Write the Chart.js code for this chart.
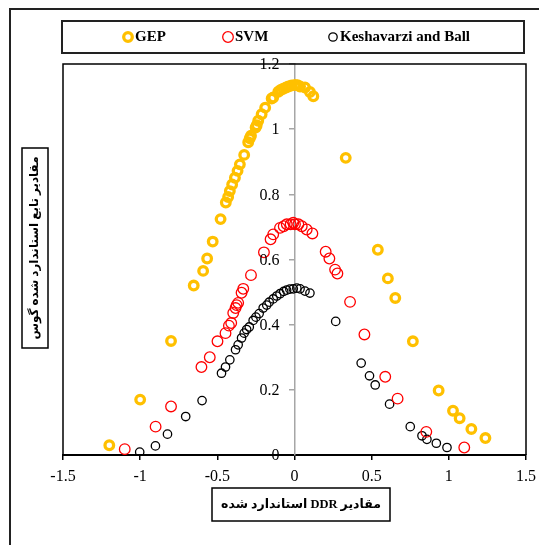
<!DOCTYPE html>
<html>
<head>
<meta charset="utf-8">
<script src="https://cdn.jsdelivr.net/npm/chart.js@4.4.1/dist/chart.umd.min.js"></script>
<style>
  html, body { margin: 0; padding: 0; background: #fff; }
  #wrap { width: 539px; height: 545px; }
</style>
</head>
<body>
<div id="wrap"><canvas id="chart" width="539" height="545"></canvas></div>
<script>
const seriesNames = ['GEP', 'SVM', 'Keshavarzi and Ball'];
const seriesColors = ['#ffc000', '#ff0000', '#000000'];

const gepX = [-1.2, -1.0, -0.8, -0.653, -0.592, -0.566, -0.53, -0.479, -0.445, -0.43, -0.419, -0.404, -0.386, -0.369, -0.354, -0.326, -0.3, -0.29, -0.282, -0.252, -0.245, -0.235, -0.213, -0.19, -0.148, -0.138, -0.105, -0.09, -0.073, -0.055, -0.04, -0.02, 0.003, 0.02, 0.036, 0.068, 0.1, 0.122, 0.332, 0.54, 0.605, 0.653, 0.767, 0.934, 1.027, 1.07, 1.146, 1.237];
const gepY = [0.03, 0.17, 0.35, 0.52, 0.565, 0.603, 0.655, 0.724, 0.775, 0.792, 0.81, 0.83, 0.851, 0.872, 0.892, 0.921, 0.96, 0.972, 0.98, 1.005, 1.012, 1.026, 1.046, 1.066, 1.094, 1.097, 1.115, 1.12, 1.124, 1.128, 1.131, 1.134, 1.136, 1.135, 1.131, 1.128, 1.114, 1.101, 0.912, 0.63, 0.542, 0.482, 0.349, 0.198, 0.136, 0.113, 0.08, 0.052];

const svmX = [-1.1, -0.9, -0.8, -0.603, -0.549, -0.499, -0.447, -0.425, -0.41, -0.397, -0.382, -0.375, -0.365, -0.343, -0.332, -0.282, -0.198, -0.155, -0.138, -0.094, -0.07, -0.05, -0.025, -0.008, 0.003, 0.025, 0.047, 0.079, 0.116, 0.202, 0.226, 0.263, 0.278, 0.36, 0.453, 0.588, 0.668, 0.854, 1.1];
const svmY = [0.018, 0.087, 0.149, 0.27, 0.3, 0.349, 0.374, 0.397, 0.405, 0.436, 0.451, 0.46, 0.467, 0.498, 0.51, 0.552, 0.622, 0.662, 0.677, 0.697, 0.702, 0.708, 0.708, 0.713, 0.708, 0.708, 0.702, 0.692, 0.68, 0.624, 0.603, 0.569, 0.557, 0.47, 0.37, 0.24, 0.173, 0.071, 0.023];

const kbX = [-1.003, -0.901, -0.823, -0.705, -0.599, -0.473, -0.447, -0.419, -0.382, -0.365, -0.343, -0.326, -0.31, -0.293, -0.268, -0.25, -0.229, -0.203, -0.18, -0.164, -0.138, -0.115, -0.094, -0.07, -0.051, -0.03, -0.008, 0.015, 0.036, 0.068, 0.1, 0.267, 0.432, 0.486, 0.523, 0.616, 0.75, 0.826, 0.858, 0.919, 0.988];
const kbY = [0.009, 0.028, 0.064, 0.118, 0.167, 0.251, 0.27, 0.292, 0.323, 0.338, 0.359, 0.374, 0.385, 0.393, 0.413, 0.423, 0.434, 0.451, 0.46, 0.469, 0.479, 0.488, 0.495, 0.502, 0.506, 0.509, 0.51, 0.512, 0.51, 0.503, 0.497, 0.41, 0.282, 0.243, 0.215, 0.156, 0.087, 0.059, 0.048, 0.036, 0.023];

const xTickLabels = ['-1.5', '-1', '-0.5', '0', '0.5', '1', '1.5'];
const yTickLabels = ['0', '0.2', '0.4', '0.6', '0.8', '1', '1.2'];
const xTitle = 'مقادیر DDR استاندارد شده';
const yTitle = 'مقادیر تابع استاندارد شده گوس';

const toPoints = (xs, ys) => xs.map((x, i) => ({ x, y: ys[i] }));

const markerStyles = [
  { radius: 4.3, border: 3.3 },
  { radius: 5.3, border: 1.3 },
  { radius: 4.2, border: 1.3 }
];

// shrink a font until the text fits the wanted width
function fitFont(ctx, text, weight, startSize, maxWidth) {
  let size = startSize;
  ctx.font = `${weight} ${size}px "Liberation Serif", "DejaVu Sans"`;
  while (ctx.measureText(text).width > maxWidth && size > 8) {
    size -= 0.5;
    ctx.font = `${weight} ${size}px "Liberation Serif", "DejaVu Sans"`;
  }
}

const framePlugin = {
  id: 'frame',
  afterDraw(chart) {
    const ctx = chart.ctx;
    const a = chart.chartArea;
    const xs = chart.scales.x;
    const ys = chart.scales.y;
    ctx.save();

    // outer frame (top + left only visible)
    ctx.strokeStyle = '#222';
    ctx.lineWidth = 2;
    ctx.beginPath();
    ctx.moveTo(10, 560);
    ctx.lineTo(10, 9);
    ctx.lineTo(560, 9);
    ctx.stroke();

    // plot border
    ctx.strokeStyle = '#000';
    ctx.lineWidth = 1.5;
    ctx.beginPath();
    ctx.moveTo(a.left, a.bottom);
    ctx.lineTo(a.left, a.top);
    ctx.lineTo(a.right, a.top);
    ctx.lineTo(a.right, a.bottom);
    ctx.stroke();

    // y tick labels, left of the axis that crosses at x = 0
    const axisX = xs.getPixelForValue(0);
    ctx.fillStyle = '#000';
    ctx.font = '16px "Liberation Serif"';
    ctx.textAlign = 'right';
    ctx.textBaseline = 'middle';
    ys.ticks.forEach((t) => {
      ctx.fillText(yTickLabels[Math.round(t.value / 0.2)], axisX - 15, ys.getPixelForValue(t.value) + 1);
    });

    // legend
    ctx.lineWidth = 2;
    ctx.strokeStyle = '#222';
    ctx.strokeRect(62, 21, 462, 32);
    const legendX = [128, 228, 333];
    ctx.font = 'bold 15px "Liberation Serif"';
    ctx.textAlign = 'left';
    seriesNames.forEach((name, i) => {
      const st = markerStyles[i];
      ctx.beginPath();
      ctx.arc(legendX[i], 37, st.radius, 0, Math.PI * 2);
      ctx.lineWidth = st.border;
      ctx.strokeStyle = seriesColors[i];
      ctx.stroke();
      ctx.fillStyle = '#000';
      ctx.fillText(name, legendX[i] + 7, 37);
    });

    // axis titles
    ctx.lineWidth = 1.5;
    ctx.strokeStyle = '#000';
    ctx.strokeRect(212, 488, 178, 33);
    ctx.strokeRect(22, 148, 26, 200);
    ctx.fillStyle = '#000';
    ctx.direction = 'rtl';
    ctx.textAlign = 'center';
    fitFont(ctx, xTitle, 'bold', 16, 166);
    ctx.fillText(xTitle, 301, 505);
    ctx.save();
    ctx.translate(35, 248);
    ctx.rotate(-Math.PI / 2);
    fitFont(ctx, yTitle, 'bold', 15, 190);
    ctx.fillText(yTitle, 0, 0);
    ctx.restore();

    ctx.restore();
  }
};

new Chart(document.getElementById('chart'), {
  type: 'scatter',
  data: {
    datasets: [
      { label: seriesNames[0], data: toPoints(gepX, gepY) },
      { label: seriesNames[1], data: toPoints(svmX, svmY) },
      { label: seriesNames[2], data: toPoints(kbX, kbY) }
    ].map((ds, i) => Object.assign(ds, {
      borderColor: seriesColors[i],
      backgroundColor: 'rgba(0,0,0,0)',
      pointRadius: markerStyles[i].radius,
      pointHoverRadius: markerStyles[i].radius,
      borderWidth: markerStyles[i].border,
      pointBorderWidth: markerStyles[i].border,
      showLine: false
    }))
  },
  options: {
    responsive: false,
    devicePixelRatio: 1,
    animation: false,
    layout: { padding: { left: 63, right: 13, top: 64, bottom: 0 } },
    plugins: { legend: { display: false }, tooltip: { enabled: false } },
    scales: {
      x: {
        type: 'linear',
        position: 'bottom',
        min: -1.5,
        max: 1.5,
        afterFit(scale) {
          scale.height = 90;
          scale.paddingLeft = 0;
          scale.paddingRight = 0;
        },
        ticks: {
          stepSize: 0.5,
          color: '#000',
          padding: 7,
          font: { family: 'Liberation Serif', size: 16 },
          callback: (v) => xTickLabels[Math.round((v + 1.5) / 0.5)]
        },
        grid: { drawOnChartArea: false, tickLength: 5, color: '#000', lineWidth: 1.5 },
        border: { color: '#000', width: 2 }
      },
      y: {
        type: 'linear',
        position: { x: 0 },
        min: 0,
        max: 1.2,
        afterFit(scale) {
          scale.width = 0;
          scale.paddingTop = 0;
          scale.paddingBottom = 0;
        },
        ticks: { stepSize: 0.2, display: false },
        grid: { drawOnChartArea: false, tickLength: 5, color: '#a6a6a6', lineWidth: 1.5 },
        border: { color: '#a6a6a6', width: 1.5 }
      }
    }
  },
  plugins: [framePlugin]
});
</script>
</body>
</html>
